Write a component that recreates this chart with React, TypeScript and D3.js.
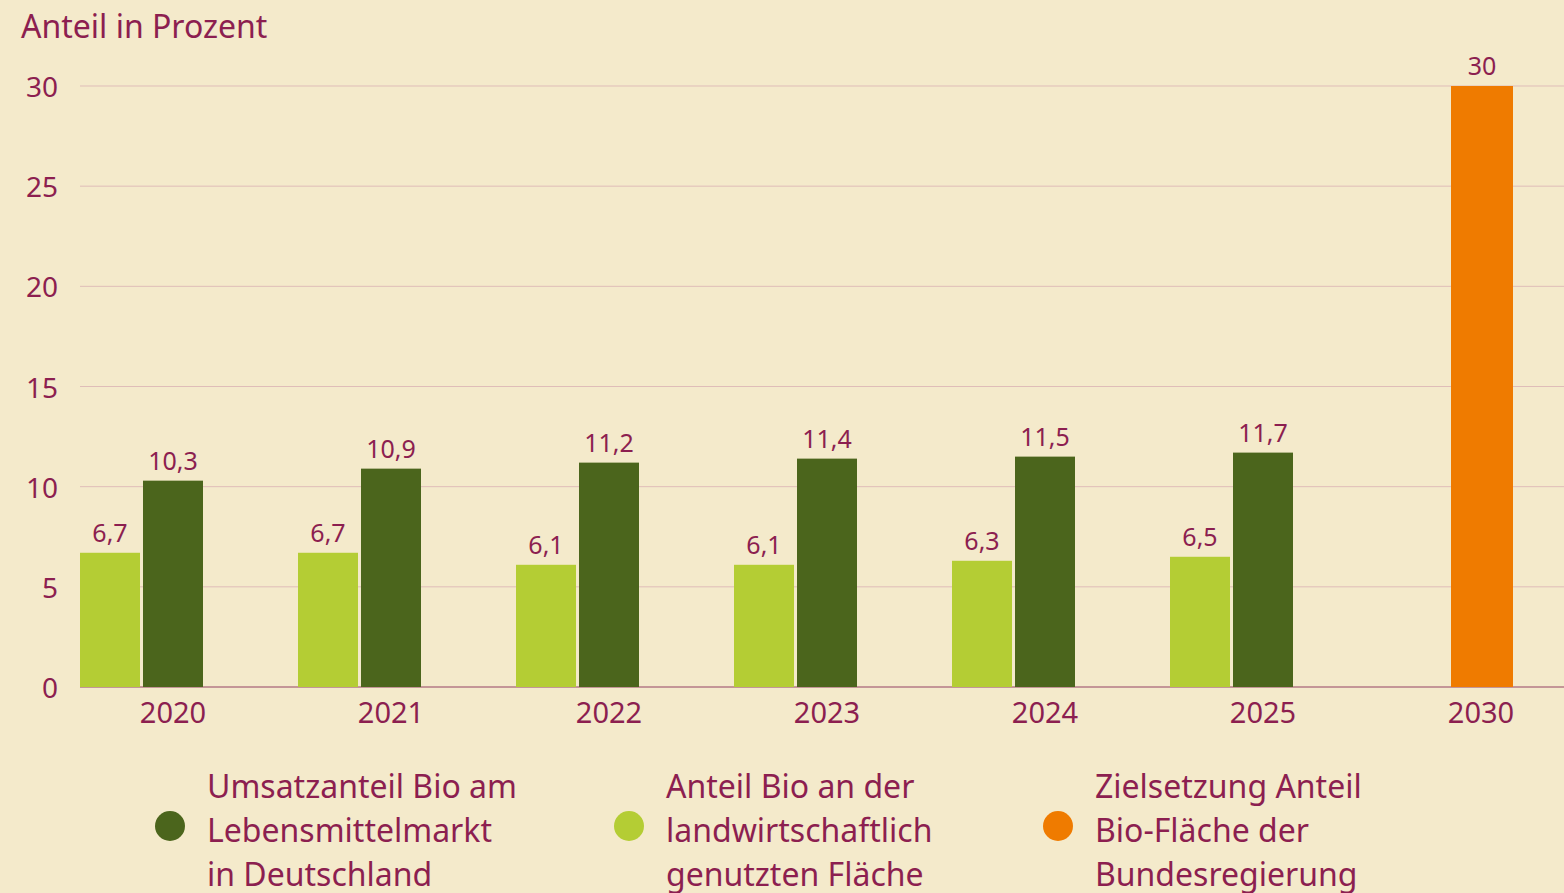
import React from "react";
import * as d3 from "d3";

const years = ["2020", "2021", "2022", "2023", "2024", "2025", "2030"];
const flaeche = [6.7, 6.7, 6.1, 6.1, 6.3, 6.5, null];
const umsatz = [10.3, 10.9, 11.2, 11.4, 11.5, 11.7, null];
const ziel = [null, null, null, null, null, null, 30];
const yTicks = [0, 5, 10, 15, 20, 25, 30];
const legendItems = [
  { key: "umsatz", lines: ["Umsatzanteil Bio am", "Lebensmittelmarkt", "in Deutschland"] },
  { key: "flaeche", lines: ["Anteil Bio an der", "landwirtschaftlich", "genutzten Fläche"] },
  { key: "ziel", lines: ["Zielsetzung Anteil", "Bio-Fläche der", "Bundesregierung"] },
];

const W = 1564;
const H = 893;
const TEXT = "#8c1f50";
const COLORS: Record<string, string> = {
  flaeche: "#b4cd34",
  umsatz: "#4b651c",
  ziel: "#ef7b00",
};
const BG = "#f4eacb";
const FONT = "'Noto Sans', 'Open Sans', sans-serif";

const fmt = (v: number) => String(v).replace(".", ",");

export default function App() {
  const y = d3.scaleLinear().domain([0, 30]).range([687, 86]);
  const x = d3
    .scaleBand<string>()
    .domain(years)
    .range([80, 1511])
    .paddingInner(0.4358)
    .paddingOuter(0)
    .align(0);
  const sub = d3
    .scaleBand<string>()
    .domain(["flaeche", "umsatz"])
    .range([0, x.bandwidth()])
    .paddingInner(0.0476);

  const bars: { key: string; year: string; v: number; slot: string }[] = [];
  years.forEach((yr, i) => {
    if (flaeche[i] != null) bars.push({ key: "flaeche", year: yr, v: flaeche[i] as number, slot: "flaeche" });
    if (umsatz[i] != null) bars.push({ key: "umsatz", year: yr, v: umsatz[i] as number, slot: "umsatz" });
    if (ziel[i] != null) bars.push({ key: "ziel", year: yr, v: ziel[i] as number, slot: "umsatz" });
  });

  const legendX = [170, 629, 1058];

  return (
    <svg
      width={W}
      height={H}
      style={{ position: "absolute", left: 0, top: 0, display: "block" }}
      fontFamily={FONT}
    >
      <rect x={0} y={0} width={W} height={H} fill={BG} />
      <text x={21} y={38} fontSize={32} fill={TEXT}>
        Anteil in Prozent
      </text>
      {yTicks.map((t) => (
        <g key={t}>
          <line
            x1={80}
            x2={W}
            y1={y(t)}
            y2={y(t)}
            stroke={t === 0 ? "#b47a86" : "#dfbdb8"}
            strokeWidth={t === 0 ? 1.5 : 1}
          />
          <text
            x={58}
            y={y(t)}
            textAnchor="end"
            dominantBaseline="central"
            fontSize={28}
            fill={TEXT}
          >
            {t}
          </text>
        </g>
      ))}
      {bars.map((b) => {
        const bx = (x(b.year) as number) + (sub(b.slot) as number);
        const bw = b.key === "ziel" ? sub.bandwidth() + 2 : sub.bandwidth();
        return (
          <g key={b.key + b.year}>
            <rect x={bx} y={y(b.v)} width={bw} height={y(0) - y(b.v)} fill={COLORS[b.key]} />
            <text
              x={bx + bw / 2}
              y={y(b.v) - 11}
              textAnchor="middle"
              fontSize={25}
              fill={TEXT}
            >
              {fmt(b.v)}
            </text>
          </g>
        );
      })}
      {years.map((yr) => (
        <text
          key={yr}
          x={(x(yr) as number) + (sub("umsatz") as number) + sub.bandwidth() / 2}
          y={723}
          textAnchor="middle"
          fontSize={29}
          fill={TEXT}
        >
          {yr}
        </text>
      ))}
      {legendItems.map((item, i) => (
        <g key={item.key}>
          <circle cx={legendX[i]} cy={826} r={15} fill={COLORS[item.key]} />
          {item.lines.map((ln, j) => (
            <text key={j} x={legendX[i] + 37} y={798 + j * 44} fontSize={32} fill={TEXT}>
              {ln}
            </text>
          ))}
        </g>
      ))}
    </svg>
  );
}
